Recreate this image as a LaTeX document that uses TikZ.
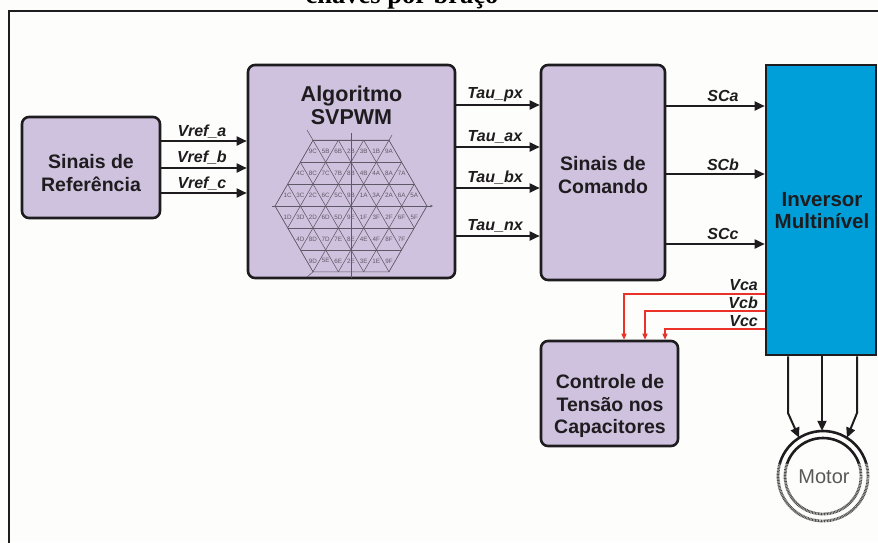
\documentclass[tikz,border=0pt]{standalone}
\usepackage{fontspec}
\setmainfont{Liberation Sans}
\newfontfamily\titleserif{Liberation Serif}
\usetikzlibrary{arrows.meta,calc}
\definecolor{boxfill}{RGB}{207,194,222}
\definecolor{invblue}{RGB}{0,159,218}
\definecolor{fbred}{RGB}{235,50,40}
\definecolor{edge}{RGB}{30,28,30}
\definecolor{gridline}{RGB}{95,88,102}
\definecolor{paper}{RGB}{253,253,251}
\begin{document}
\begin{tikzpicture}[x=1pt,y=-1pt,
  blockbox/.style={draw=edge,line width=2.6pt,rounded corners=7pt,fill=boxfill,inner sep=0pt},
  blocktext/.style={font=\bfseries\fontsize{19.5}{22.5}\selectfont,align=center,inner sep=0pt,text=edge},
  sig/.style={draw=edge,line width=1.8pt,-{Triangle[length=10pt,width=9pt]}},
  siglabel/.style={font=\bfseries\itshape\fontsize{16}{16}\selectfont,anchor=base,inner sep=0pt,text=edge},
  fb/.style={draw=fbred,line width=1.3pt,-{Triangle[length=6pt,width=5pt]}},
  hexgrid/.style={draw=gridline,line width=0.55pt},
  hexlab/.style={font=\fontsize{6.3}{6.3}\selectfont,text=gridline,inner sep=0pt}
]
% page and outer frame
\fill[paper] (0,0) rectangle (878,542);
\useasboundingbox (0,0) rectangle (878,542);
\draw[edge,line width=2pt] (8.5,570) -- (8.5,11) -- (900,11);
\node[font=\titleserif\bfseries\fontsize{26.5}{26.5}\selectfont,anchor=base,inner sep=0pt] (title) at (402,3) {chaves por braço};

% blocks
\node[blockbox,minimum width=138pt,minimum height=101pt] (ref) at (91,167.5) {};
\node[blocktext] (reftxt) at (91,173) {Sinais de\\Referência};
\node[blockbox,minimum width=207pt,minimum height=213pt] (alg) at (351.5,171.5) {};
\node[blocktext,font=\bfseries\fontsize{21.5}{23}\selectfont] (algtxt) at (351.5,105.5) {Algoritmo\\SVPWM};
\node[blockbox,minimum width=124pt,minimum height=215pt] (com) at (603,172.5) {};
\node[blocktext] (comtxt) at (603,175) {Sinais de\\Comando};
\node[draw=edge,line width=2.6pt,fill=invblue,minimum width=110pt,minimum height=290pt,inner sep=0pt] (inv) at (821,210) {};
\node[blocktext,font=\bfseries\fontsize{20.5}{22}\selectfont] (invtxt) at (822,211) {Inversor\\Multinível};
\node[blockbox,minimum width=137pt,minimum height=105pt] (ctl) at (609.5,393.5) {};
\node[blocktext,font=\bfseries\fontsize{19.5}{22.5}\selectfont] (ctltxt) at (610,406) {Controle de\\Tensão nos\\Capacitores};

% space-vector hexagon inside the SVPWM block
\begin{scope}[shift={(351,206)}]
  \begin{scope}
    \clip (-76,0) -- (-38,-65.82) -- (38,-65.82) -- (76,0) -- (38,65.82) -- (-38,65.82) -- cycle;
    \foreach \k in {-3,...,3} \draw[hexgrid] (-80,{\k*21.94}) -- (80,{\k*21.94});
    \foreach \i in {-6,...,6} {
      \draw[hexgrid] ({\i*25.33-40},-69.28) -- ({\i*25.33+40},69.28);
      \draw[hexgrid] ({\i*25.33+40},-69.28) -- ({\i*25.33-40},69.28);
    }
  \end{scope}
  \draw[hexgrid] (-76,0) -- (-38,-65.82) -- (38,-65.82) -- (76,0) -- (38,65.82) -- (-38,65.82) -- cycle;
  \draw[hexgrid] (0,-73) -- (0,72);
  \draw[hexgrid,-{Stealth[length=3pt,width=2.5pt]}] (-79,0) -- (82,0);
  \draw[hexgrid] (-44,-76) -- (-38,-65.82);
  \draw[hexgrid] (41,-71) -- (38,-65.82);
  \draw[hexgrid] (-44,71) -- (-38,65.82);
  \foreach \r/\n/\labs in {0/7/{9C,5B,6B,2B,3B,1B,9A},1/9/{4C,8C,7C,7B,8B,4B,4A,8A,7A},2/11/{1C,3C,2C,6C,5C,9B,1A,3A,2A,6A,5A},3/11/{1D,3D,2D,6D,5D,9E,1F,3F,2F,6F,5F},4/9/{4D,8D,7D,7E,8E,4E,4F,8F,7F},5/7/{9D,5E,6E,2E,3E,1E,9F}}
    \foreach \lab [count=\k from 0] in \labs
      \node[hexlab] (t\r\lab) at ({(\k-(\n-1)/2)*12.665},{(\r-2.5)*21.94}) {\lab};
\end{scope}

% reference signals
\coordinate (va) at (0,141);
\coordinate (vb) at (0,168);
\coordinate (vc) at (0,193);
\draw[sig] (ref.east |- va) -- (alg.west |- va);
\draw[sig] (ref.east |- vb) -- (alg.west |- vb);
\draw[sig] (ref.east |- vc) -- (alg.west |- vc);
\node[siglabel] (lva) at (202,136) {Vref\_a};
\node[siglabel] (lvb) at (202,162.5) {Vref\_b};
\node[siglabel] (lvc) at (202,188) {Vref\_c};

% switching times
\coordinate (tp) at (0,105);
\coordinate (ta) at (0,147);
\coordinate (tb) at (0,188);
\coordinate (tn) at (0,236);
\draw[sig] (alg.east |- tp) -- (com.west |- tp);
\draw[sig] (alg.east |- ta) -- (com.west |- ta);
\draw[sig] (alg.east |- tb) -- (com.west |- tb);
\draw[sig] (alg.east |- tn) -- (com.west |- tn);
\node[siglabel] (ltp) at (495,98) {Tau\_px};
\node[siglabel] (lta) at (495,141.5) {Tau\_ax};
\node[siglabel] (ltb) at (495,182.5) {Tau\_bx};
\node[siglabel] (ltn) at (495,230) {Tau\_nx};

% gate commands
\coordinate (sa) at (0,106);
\coordinate (sb) at (0,174);
\coordinate (sc) at (0,244);
\draw[sig] (com.east |- sa) -- (inv.west |- sa);
\draw[sig] (com.east |- sb) -- (inv.west |- sb);
\draw[sig] (com.east |- sc) -- (inv.west |- sc);
\node[siglabel] (lsa) at (723,101.5) {SCa};
\node[siglabel] (lsb) at (723,170) {SCb};
\node[siglabel] (lsc) at (723,239) {SCc};

% capacitor voltage feedback
\coordinate (fa) at (624,294);
\coordinate (fbb) at (645,311);
\coordinate (fc) at (665,329);
\draw[fb] (inv.west |- fa) -- (fa) -- (ctl.north -| fa);
\draw[fb] (inv.west |- fbb) -- (fbb) -- (ctl.north -| fbb);
\draw[fb] (inv.west |- fc) -- (fc) -- (ctl.north -| fc);
\node[siglabel,anchor=base east] (lca) at (758,290.5) {Vca};
\node[siglabel,anchor=base east] (lcb) at (758,308) {Vcb};
\node[siglabel,anchor=base east] (lcc) at (758,326) {Vcc};

% motor
\node[circle,minimum size=90pt,inner sep=0pt] (motor) at (823,476) {};
\begin{scope}
  \clip (770,420) rectangle (880,463);
  \draw[edge,line width=2.6pt] (motor.center) circle (45pt);
  \draw[edge,line width=2.6pt] (motor.center) circle (38pt);
\end{scope}
\begin{scope}
  \clip (770,463) rectangle (880,530);
  \draw[gray!60!black,line width=2.8pt,dash pattern=on 0.9pt off 0.6pt] (motor.center) circle (45pt);
  \draw[gray!60!black,line width=2.8pt,dash pattern=on 0.9pt off 0.6pt] (motor.center) circle (38pt);
\end{scope}
\node[font=\fontsize{20}{20}\selectfont,text=gray!70!black,inner sep=0pt] (mtxt) at (824,477) {Motor};
\coordinate (m1) at (788,413);
\coordinate (m2) at (822,413);
\coordinate (m3) at (857,413);
\draw[sig,line width=2pt] (inv.south -| m1) -- (m1) -- (motor.122);
\draw[sig,line width=2pt] (inv.south -| m2) -- (motor.north -| m2);
\draw[sig,line width=2pt] (inv.south -| m3) -- (m3) -- (motor.58);
\end{tikzpicture}
\end{document}
